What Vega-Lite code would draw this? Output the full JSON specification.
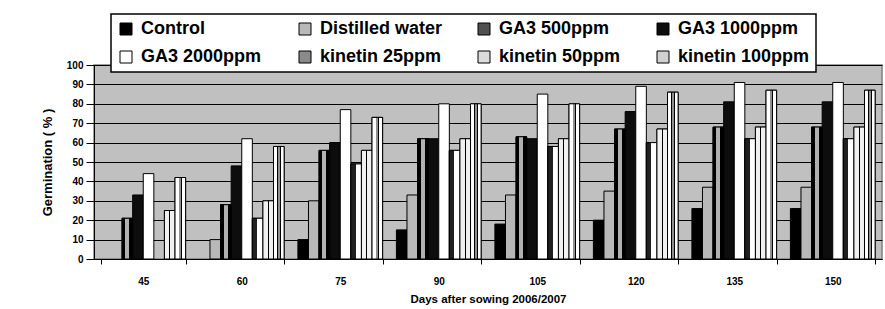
{
  "$schema": "https://vega.github.io/schema/vega-lite/v6.json",
  "width": 788,
  "height": 194,
  "autosize": {"type": "none"},
  "padding": {"left": 94, "top": 65, "right": 3, "bottom": 50},
  "background": "white",
  "config": {
    "font": "Liberation Sans",
    "view": {"fill": "#c0c0c0", "stroke": "#808080", "strokeWidth": 1.5}
  },
  "data": {
    "values": [
      {"day": 45, "treatment": "GA3 500ppm", "germination": 21},
      {"day": 45, "treatment": "GA3 1000ppm", "germination": 33},
      {"day": 45, "treatment": "GA3 2000ppm", "germination": 44},
      {"day": 45, "treatment": "kinetin 50ppm", "germination": 25},
      {"day": 45, "treatment": "kinetin 100ppm", "germination": 42},
      {"day": 60, "treatment": "Distilled water", "germination": 10},
      {"day": 60, "treatment": "GA3 500ppm", "germination": 28},
      {"day": 60, "treatment": "GA3 1000ppm", "germination": 48},
      {"day": 60, "treatment": "GA3 2000ppm", "germination": 62},
      {"day": 60, "treatment": "kinetin 25ppm", "germination": 21},
      {"day": 60, "treatment": "kinetin 50ppm", "germination": 30},
      {"day": 60, "treatment": "kinetin 100ppm", "germination": 58},
      {"day": 75, "treatment": "Control", "germination": 10},
      {"day": 75, "treatment": "Distilled water", "germination": 30},
      {"day": 75, "treatment": "GA3 500ppm", "germination": 56},
      {"day": 75, "treatment": "GA3 1000ppm", "germination": 60},
      {"day": 75, "treatment": "GA3 2000ppm", "germination": 77},
      {"day": 75, "treatment": "kinetin 25ppm", "germination": 49},
      {"day": 75, "treatment": "kinetin 50ppm", "germination": 56},
      {"day": 75, "treatment": "kinetin 100ppm", "germination": 73},
      {"day": 90, "treatment": "Control", "germination": 15},
      {"day": 90, "treatment": "Distilled water", "germination": 33},
      {"day": 90, "treatment": "GA3 500ppm", "germination": 62},
      {"day": 90, "treatment": "GA3 1000ppm", "germination": 62},
      {"day": 90, "treatment": "GA3 2000ppm", "germination": 80},
      {"day": 90, "treatment": "kinetin 25ppm", "germination": 56},
      {"day": 90, "treatment": "kinetin 50ppm", "germination": 62},
      {"day": 90, "treatment": "kinetin 100ppm", "germination": 80},
      {"day": 105, "treatment": "Control", "germination": 18},
      {"day": 105, "treatment": "Distilled water", "germination": 33},
      {"day": 105, "treatment": "GA3 500ppm", "germination": 63},
      {"day": 105, "treatment": "GA3 1000ppm", "germination": 62},
      {"day": 105, "treatment": "GA3 2000ppm", "germination": 85},
      {"day": 105, "treatment": "kinetin 25ppm", "germination": 58},
      {"day": 105, "treatment": "kinetin 50ppm", "germination": 62},
      {"day": 105, "treatment": "kinetin 100ppm", "germination": 80},
      {"day": 120, "treatment": "Control", "germination": 20},
      {"day": 120, "treatment": "Distilled water", "germination": 35},
      {"day": 120, "treatment": "GA3 500ppm", "germination": 67},
      {"day": 120, "treatment": "GA3 1000ppm", "germination": 76},
      {"day": 120, "treatment": "GA3 2000ppm", "germination": 89},
      {"day": 120, "treatment": "kinetin 25ppm", "germination": 60},
      {"day": 120, "treatment": "kinetin 50ppm", "germination": 67},
      {"day": 120, "treatment": "kinetin 100ppm", "germination": 86},
      {"day": 135, "treatment": "Control", "germination": 26},
      {"day": 135, "treatment": "Distilled water", "germination": 37},
      {"day": 135, "treatment": "GA3 500ppm", "germination": 68},
      {"day": 135, "treatment": "GA3 1000ppm", "germination": 81},
      {"day": 135, "treatment": "GA3 2000ppm", "germination": 91},
      {"day": 135, "treatment": "kinetin 25ppm", "germination": 62},
      {"day": 135, "treatment": "kinetin 50ppm", "germination": 68},
      {"day": 135, "treatment": "kinetin 100ppm", "germination": 87},
      {"day": 150, "treatment": "Control", "germination": 26},
      {"day": 150, "treatment": "Distilled water", "germination": 37},
      {"day": 150, "treatment": "GA3 500ppm", "germination": 68},
      {"day": 150, "treatment": "GA3 1000ppm", "germination": 81},
      {"day": 150, "treatment": "GA3 2000ppm", "germination": 91},
      {"day": 150, "treatment": "kinetin 25ppm", "germination": 62},
      {"day": 150, "treatment": "kinetin 50ppm", "germination": 68},
      {"day": 150, "treatment": "kinetin 100ppm", "germination": 87}
    ]
  },
  "encoding": {
    "x": {
      "field": "day",
      "type": "ordinal",
      "scale": {"paddingInner": 0.14, "paddingOuter": 0.07},
      "axis": {
        "labelAngle": 0,
        "tickBand": "extent",
        "tickSize": 5,
        "tickColor": "black",
        "domainColor": "black",
        "labelPadding": 12,
        "labelFontSize": 10,
        "labelFontWeight": "bold",
        "labelColor": "black",
        "title": "Days after sowing 2006/2007",
        "titleFontSize": 11.5,
        "titleFontWeight": "bold",
        "titleColor": "black",
        "titlePadding": 7
      }
    },
    "xOffset": {
      "field": "treatment",
      "type": "nominal",
      "scale": {"domain": ["Control", "Distilled water", "GA3 500ppm", "GA3 1000ppm", "GA3 2000ppm", "kinetin 25ppm", "kinetin 50ppm", "kinetin 100ppm"], "paddingInner": 0, "paddingOuter": 0}
    },
    "y": {
      "field": "germination",
      "type": "quantitative",
      "scale": {"domain": [0, 100], "nice": false},
      "axis": {
        "values": [0, 10, 20, 30, 40, 50, 60, 70, 80, 90, 100],
        "grid": true,
        "gridColor": "black",
        "gridWidth": 1,
        "gridOpacity": 1,
        "domainColor": "black",
        "tickColor": "black",
        "tickSize": 8,
        "labelPadding": 3,
        "labelFontSize": 10,
        "labelFontWeight": "bold",
        "labelColor": "black",
        "title": "Germination ( % )",
        "titleFontSize": 13,
        "titleFontWeight": "bold",
        "titleColor": "black",
        "titlePadding": 12
      }
    }
  },
  "layer": [
    {
      "mark": {"type": "bar", "stroke": "black", "strokeWidth": 1},
      "encoding": {
        "color": {
          "field": "treatment",
          "type": "nominal",
          "scale": {
            "domain": ["Control", "Distilled water", "GA3 500ppm", "GA3 1000ppm", "GA3 2000ppm", "kinetin 25ppm", "kinetin 50ppm", "kinetin 100ppm"],
            "range": ["#000000", "#b8b8b8", "#505050", "#0d0d0d", "#ffffff", "#8a8a8a", "#dcdcdc", "#d0d0d0"]
          },
          "legend": {
            "title": null,
            "orient": "none",
            "legendX": 17,
            "legendY": -51,
            "direction": "horizontal",
            "columns": 4,
            "gridAlign": "all",
            "columnPadding": 23,
            "rowPadding": 10,
            "symbolType": "square",
            "symbolSize": 144,
            "symbolStrokeColor": "black",
            "symbolStrokeWidth": 1,
            "symbolOpacity": 1,
            "labelFontSize": 18,
            "labelFontWeight": "bold",
            "labelColor": "black",
            "labelOffset": 6,
            "labelLimit": 0,
            "labelExpr": "indexof(datum.label, 'kinetin') === 0 ? ' ' + datum.label : datum.label",
            "padding": 6,
            "strokeColor": "black",
            "fillColor": "white",
            "encode": {"legend": {"update": {"strokeWidth": {"value": 1.5}}}}
          }
        }
      }
    },
    {
      "transform": [{"filter": "datum.treatment === 'GA3 500ppm'"}],
      "mark": {"type": "bar", "stroke": "black", "strokeWidth": 1,
        "fill": {"gradient": "linear", "x1": 0, "y1": 0, "x2": 1, "y2": 0, "stops": [
          {"offset": 0, "color": "#000000"}, {"offset": 0.3, "color": "#000000"},
          {"offset": 0.3, "color": "#b0b0b0"}, {"offset": 0.7, "color": "#b0b0b0"},
          {"offset": 0.7, "color": "#000000"}, {"offset": 1, "color": "#000000"}]}}
    },
    {
      "transform": [{"filter": "datum.treatment === 'kinetin 25ppm'"}],
      "mark": {"type": "bar", "stroke": "black", "strokeWidth": 1,
        "fill": {"gradient": "linear", "x1": 0, "y1": 0, "x2": 1, "y2": 0, "stops": [
          {"offset": 0, "color": "#202020"}, {"offset": 0.45, "color": "#202020"},
          {"offset": 0.45, "color": "#ffffff"}, {"offset": 1, "color": "#ffffff"}]}}
    },
    {
      "transform": [{"filter": "datum.treatment === 'kinetin 50ppm'"}],
      "mark": {"type": "bar", "stroke": "black", "strokeWidth": 1,
        "fill": {"gradient": "linear", "x1": 0, "y1": 0, "x2": 1, "y2": 0, "stops": [
          {"offset": 0, "color": "#f0f0f0"}, {"offset": 0.44, "color": "#f0f0f0"},
          {"offset": 0.44, "color": "#000000"}, {"offset": 0.56, "color": "#000000"},
          {"offset": 0.56, "color": "#f0f0f0"}, {"offset": 1, "color": "#f0f0f0"}]}}
    },
    {
      "transform": [{"filter": "datum.treatment === 'kinetin 100ppm'"}],
      "mark": {"type": "bar", "stroke": "black", "strokeWidth": 1,
        "fill": {"gradient": "linear", "x1": 0, "y1": 0, "x2": 1, "y2": 0, "stops": [
          {"offset": 0, "color": "#ffffff"}, {"offset": 0.33, "color": "#ffffff"},
          {"offset": 0.33, "color": "#000000"}, {"offset": 0.42, "color": "#000000"},
          {"offset": 0.42, "color": "#909090"}, {"offset": 0.58, "color": "#909090"},
          {"offset": 0.58, "color": "#000000"}, {"offset": 0.67, "color": "#000000"},
          {"offset": 0.67, "color": "#ffffff"}, {"offset": 1, "color": "#ffffff"}]}}
    }
  ]
}
